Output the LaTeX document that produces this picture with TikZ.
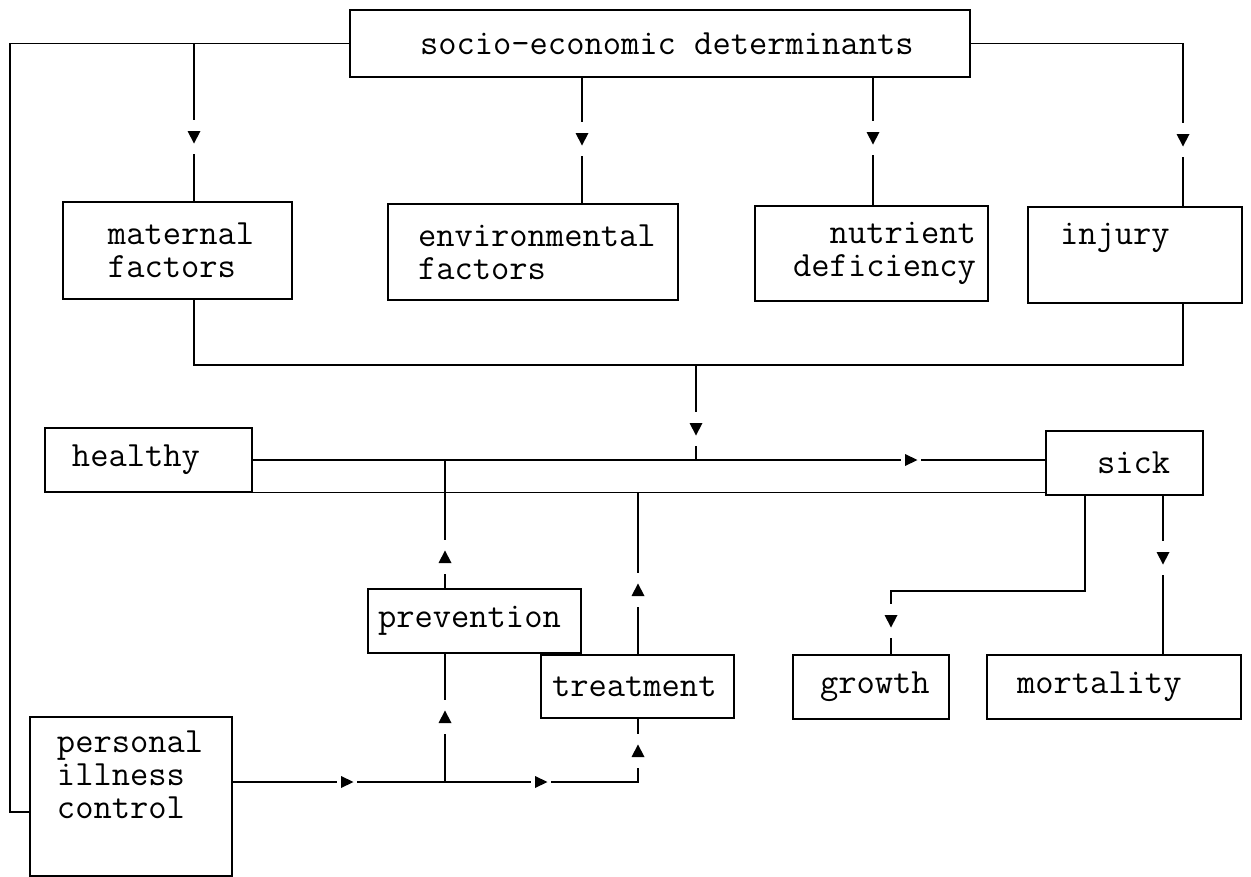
\documentclass[tikz,border=0pt]{standalone}
\usepackage{fontspec}
\newcommand\ind[1]{\hspace*{#1bp}}
\newcommand\rind[1]{\makebox[#1bp]{}}
\newcommand\msp{\hphantom{x}}
\begin{document}
\begin{tikzpicture}[x=1bp,y=-1bp,
  box/.style={draw, line width=1.2bp, inner xsep=0pt, inner ysep=0pt, align=left,
    font=\ttfamily\fontsize{35.5bp}{33bp}\selectfont},
  conn/.style={draw, line width=1.2bp},
  arrdown/.pic={\fill[white] (-3,-17) rectangle (3,17); \fill[black] (-6.5,-6) -- (6.5,-6) -- (0,6.5) -- cycle;},
  arrup/.pic={\fill[white] (-3,-17) rectangle (3,17); \fill[black] (-6.5,6) -- (6.5,6) -- (0,-6.5) -- cycle;},
  arrright/.pic={\fill[white] (-10,-3) rectangle (10,3); \fill[black] (-6,-6) -- (-6,6) -- (6.5,0) -- cycle;}
]
\fill[white] (0,0) rectangle (1251,877);
\useasboundingbox (0,0) rectangle (1251,877);

% boxes
\node[box, text width=620bp, minimum height=67bp] (socio) at (660,43.5) {\ind{70}socio-economic\msp determinants};
\node[box, text width=229bp, minimum height=97bp] (maternal) at (177.5,250.5) {\ind{45}maternal\\\ind{45}factors};
\node[box, text width=290bp, minimum height=96bp] (env) at (533,252) {\ind{30}environmental\\\ind{30}factors};
\node[box, text width=233bp, minimum height=95bp, align=right] (nutrient) at (871.5,253.5) {nutrient\rind{12}\\deficiency\rind{12}};
\node[box, text width=214bp, minimum height=96bp] (injury) at (1135,255) {\ind{32}injury\\\strut};
\node[box, text width=207bp, minimum height=64bp] (healthy) at (148.5,460) {\ind{27}healthy};
\node[box, text width=157bp, minimum height=64bp] (sick) at (1124.5,463) {\ind{51}sick};
\node[box, text width=213bp, minimum height=64bp] (prevention) at (474.5,621) {\ind{10}prevention};
\node[box, text width=193bp, minimum height=63bp] (treatment) at (637.5,686.5) {\ind{11}treatment};
\node[box, text width=156bp, minimum height=64bp] (growth) at (871,687) {\ind{27}growth};
\node[box, text width=254bp, minimum height=64bp] (mortality) at (1114,687) {\ind{30}mortality};
\node[box, text width=202bp, minimum height=159bp] (personal) at (131,796.5) {\ind{27}personal\\\ind{27}illness\\\ind{27}control\\\strut};

% junction coordinates
\coordinate (pL) at (10,812);
\coordinate (mj) at (194,43);
\coordinate (xE) at (582,0);
\coordinate (xN) at (873,0);
\coordinate (xI) at (1183,0);
\coordinate (br) at (1183,365);
\coordinate (bj) at (696,365);
\coordinate (xP) at (445,0);
\coordinate (xT) at (638,0);
\coordinate (yPL) at (0,782);
\coordinate (sg) at (1085,591);
\coordinate (xG) at (891,0);
\coordinate (xM) at (1163,0);

% connectors
\draw[conn] (socio.west) -| (pL) -- (pL -| personal.west);
\draw[conn] (mj) -- (mj |- maternal.north);
\draw[conn] (socio.south -| xE) -- (env.north -| xE);
\draw[conn] (socio.south -| xN) -- (nutrient.north -| xN);
\draw[conn] (socio.east) -| (xI |- injury.north);
\draw[conn] (maternal.south -| mj) |- (br) -- (br |- injury.south);
\draw[conn] (bj) -- (bj |- healthy.east);
\draw[conn] (healthy.east) -- (healthy.east -| sick.west);
\draw[conn] (healthy.south east) -- (healthy.south east -| sick.west);
\draw[conn] (prevention.north -| xP) -- (xP |- healthy.east);
\draw[conn] (treatment.north -| xT) -- (xT |- healthy.south east);
\draw[conn] (personal.east |- yPL) -- (yPL -| xT) -- (xT |- treatment.south);
\draw[conn] (yPL -| xP) -- (xP |- prevention.south);
\draw[conn] (sick.south -| sg) -- (sg) -| (xG |- growth.north);
\draw[conn] (sick.south -| xM) -- (xM |- mortality.north);

% arrowheads
\pic at (194,137) {arrdown};
\pic at (582,139) {arrdown};
\pic at (873,138) {arrdown};
\pic at (1183,140) {arrdown};
\pic at (696,429) {arrdown};
\pic at (911,460) {arrright};
\pic at (445,557) {arrup};
\pic at (638,590) {arrup};
\pic at (445,717) {arrup};
\pic at (638,751) {arrup};
\pic at (347,782) {arrright};
\pic at (541,782) {arrright};
\pic at (891,621) {arrdown};
\pic at (1163,558) {arrdown};
\end{tikzpicture}
\end{document}
